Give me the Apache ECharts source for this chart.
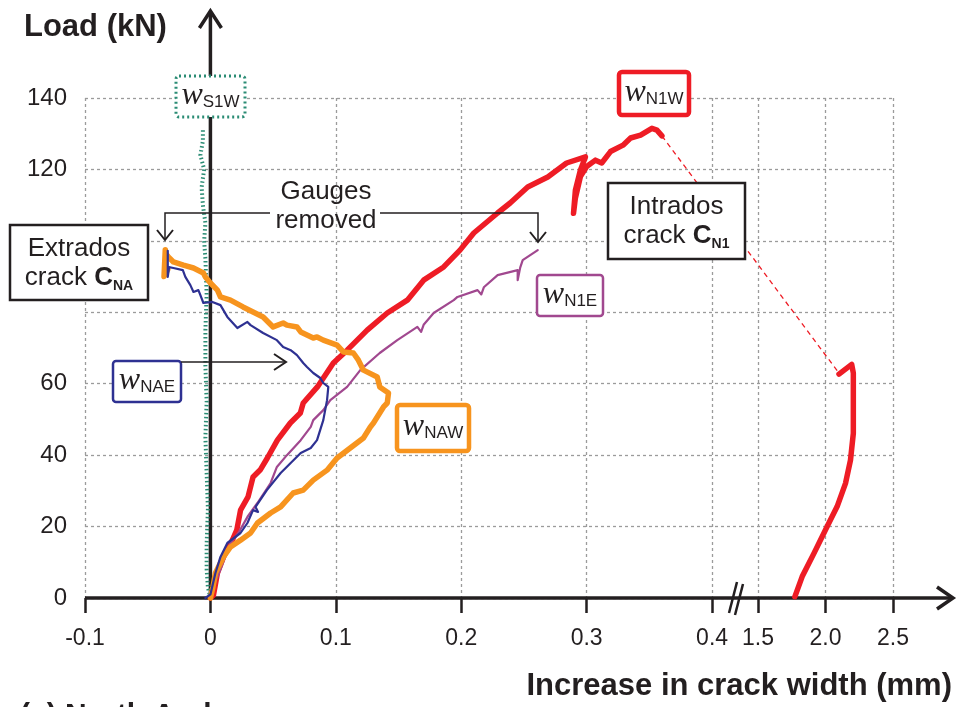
<!DOCTYPE html>
<html>
<head>
<meta charset="utf-8">
<script src="https://cdn.jsdelivr.net/npm/echarts@6/dist/echarts.min.js"></script>
<style>
  html, body { margin: 0; padding: 0; background: #fff; }
  #chart { width: 961px; height: 707px; }
</style>
</head>
<body>
<div id="chart"></div>
<script>
// Load vs. increase in crack width, north arch gauges (x in mm, y in kN)
const wS1W = [[0,0],[-0.002,3],[-0.003,8],[-0.003,15],[-0.002,25],[-0.003,35],[-0.004,45],[-0.003,55],[-0.004,65],[-0.004,75],[-0.003,85],[-0.004,95],[-0.005,100],[-0.004,105],[-0.006,110],[-0.007,115],[-0.005,120],[-0.008,124],[-0.006,128],[-0.006,131.5]];

const wN1W = [[0,0],[0.0024,0.8],[0.0056,7],[0.0104,11.5],[0.0175,16.2],[0.021,19],[0.024,24.6],[0.030,28.3],[0.034,33.9],[0.040,36],[0.0454,39.2],[0.0534,44.2],[0.0637,49],[0.0717,51.8],[0.074,54.6],[0.0853,59.1],[0.098,65.8],[0.109,69.4],[0.125,75],[0.141,79.8],[0.157,83.4],[0.170,89],[0.186,92.7],[0.199,97.4],[0.210,102.2],[0.229,107.8],[0.239,110.6],[0.253,115.1],[0.269,117.9],[0.284,121.8],[0.299,123.5],[0.295,119.8],[0.291,114.2],[0.2895,107.7],[0.291,112],[0.295,118],[0.300,120.8],[0.307,122.6],[0.312,121.8],[0.319,125],[0.329,126.8],[0.335,128.8],[0.343,129.6],[0.352,131.5],[0.356,131],[0.360,129.4]];
// unloading jump across the axis break
const wN1WJump = [[0.360,129.4],[2.093,63.3]];
// post-peak branch beyond the break
const wN1WTail = [[2.10,62.7],[2.194,65.4],[2.206,63],[2.206,60.1],[2.206,46.1],[2.185,38.6],[2.148,32.1],[2.086,25.6],[2.012,20],[1.914,12.5],[1.827,6],[1.773,0.4]];

const wN1E = [[0,0],[0.0024,3.1],[0.008,8],[0.016,15.4],[0.0223,18.2],[0.030,23],[0.0375,26.6],[0.048,32.2],[0.053,36.7],[0.061,40],[0.072,44.2],[0.080,47.9],[0.082,49.8],[0.090,52.6],[0.0956,55.4],[0.109,59.1],[0.1195,63.8],[0.135,68.6],[0.149,72.2],[0.165,75.9],[0.168,74.5],[0.170,76.5],[0.178,79.8],[0.194,83.4],[0.197,84.3],[0.213,86.2],[0.216,85],[0.218,87],[0.229,90.4],[0.245,91.8],[0.245,89],[0.247,92.5],[0.249,94.6],[0.261,97.4]];

const wNAE = [[-0.004,0],[0,1],[0.004,7],[0.008,11.5],[0.0135,15.4],[0.024,18.2],[0.0295,21],[0.034,24.6],[0.038,24.1],[0.036,25.5],[0.045,30.2],[0.056,35],[0.064,37.8],[0.072,40.6],[0.080,42],[0.085,44.2],[0.090,49.8],[0.093,55.4],[0.094,59.1],[0.090,60.2],[0.0876,61.6],[0.082,63],[0.077,64.7],[0.074,65.8],[0.069,68],[0.064,69.4],[0.058,70.3],[0.053,72.2],[0.042,74.2],[0.032,76.4],[0.0295,77.3],[0.0215,75.6],[0.0135,78.7],[0.008,82],[0.0016,82.9],[-0.0056,82.6],[-0.008,84.8],[-0.0096,86.2],[-0.0135,85.7],[-0.016,87.6],[-0.020,89.9],[-0.022,91.8],[-0.0295,92.4],[-0.034,92.7],[-0.034,97.2],[-0.034,89.9],[-0.033,92.5]];

const wNAW = [[0,0],[0.002,3],[0.004,7],[0.0104,11.5],[0.016,14.3],[0.024,16.2],[0.032,18.2],[0.0375,21],[0.048,23.8],[0.056,25.5],[0.066,29.4],[0.074,30.2],[0.082,33],[0.093,35.8],[0.101,39.2],[0.1115,42],[0.122,44.8],[0.1275,47.9],[0.130,49],[0.135,51.8],[0.138,53.5],[0.141,54.6],[0.142,57.4],[0.135,59.1],[0.133,61.9],[0.122,63.8],[0.118,66.6],[0.114,68.6],[0.106,68.9],[0.101,70.8],[0.090,72.2],[0.085,73.1],[0.082,72.8],[0.072,74.5],[0.069,75.9],[0.061,76.4],[0.058,77],[0.050,75.9],[0.042,78.7],[0.034,80.1],[0.026,81.5],[0.016,83.4],[0.008,84.3],[0.0056,86.2],[0,88.2],[-0.004,89.9],[-0.0056,91],[-0.0135,92.4],[-0.0215,93.2],[-0.0295,94.1],[-0.0335,95.5],[-0.036,96.6],[-0.036,97.5],[-0.037,90],[-0.034,92]];

const xTicks = [-0.1, 0, 0.1, 0.2, 0.3, 0.4, 1.5, 2.0, 2.5];
const xTickLabels = ['-0.1', '0', '0.1', '0.2', '0.3', '0.4', '1.5', '2.0', '2.5'];
const yHiddenLabels = [80, 100];

// Broken x scale: 0..0.4 linear, then 1.5..2.5 compressed after a gap
const BRK_AT = 0.45, SEG2_START = 0.43665, SEG2_SLOPE = 0.1076;
function toDisp(x) { return x <= BRK_AT ? x : SEG2_START + (x - 1.5) * SEG2_SLOPE; }
const disp = arr => arr.map(p => [toDisp(p[0]), p[1]]);
const xTickDisp = xTicks.map(toDisp);

const INK = '#231f20';
const SANS = '"Liberation Sans", Arial, sans-serif';
const GRID = { left: 85, right: 68, top: 98, bottom: 109 };

const chart = echarts.init(document.getElementById('chart'));

function seriesLine(name, data, color, width, extra) {
  return Object.assign({
    name, type: 'line', data: disp(data), showSymbol: false, symbol: 'none',
    animation: false, z: 3, clip: false,
    lineStyle: { color, width, join: 'round', cap: 'round' }
  }, extra || {});
}

chart.setOption({
  backgroundColor: '#fff',
  animation: false,
  grid: GRID,
  xAxis: {
    type: 'value', min: -0.1, max: toDisp(2.5),
    axisLine: { show: false },
    axisTick: { show: true, customValues: xTickDisp, length: 15, inside: false,
      lineStyle: { color: INK, width: 2.5 } },
    axisLabel: {
      customValues: xTickDisp, margin: 29, color: INK, fontSize: 23, fontFamily: '"Liberation Sans Narrow", ' + SANS,
      formatter: v => {
        let best = 0, d = Infinity;
        xTickDisp.forEach((t, i) => { const e = Math.abs(t - v); if (e < d) { d = e; best = i; } });
        return xTickLabels[best];
      }
    },
    splitLine: { show: true, lineStyle: { color: '#9b9b9b', width: 1.3, type: [3, 3] } }
  },
  yAxis: {
    type: 'value', min: 0, max: 140, interval: 20,
    axisLine: { show: false }, axisTick: { show: false },
    axisLabel: { color: INK, fontSize: 24, fontFamily: SANS, margin: 18,
      formatter: v => yHiddenLabels.includes(v) ? '' : String(v) },
    splitLine: { show: true, lineStyle: { color: '#9b9b9b', width: 1.3, type: [3, 3] } }
  },
  series: [
    seriesLine('wS1W', wS1W, '#2a8c74', 4, { lineStyle: { color: '#2a8c74', width: 4, type: [1.5, 2.5] } }),
    seriesLine('wN1W', wN1W, '#ee1c25', 5.5),
    seriesLine('wN1W jump', wN1WJump, '#ee1c25', 1.3, { lineStyle: { color: '#ee1c25', width: 1.3, type: [5, 4] } }),
    seriesLine('wN1W tail', wN1WTail, '#ee1c25', 5.5),
    seriesLine('wN1E', wN1E, '#a1488f', 2.2),
    seriesLine('wNAW', wNAW, '#f7941e', 5.5),
    seriesLine('wNAE', wNAE, '#2e3192', 2.2)
  ]
});

// Axes drawn through the origin, annotations and labels
const origin = chart.convertToPixel({ gridIndex: 0 }, [0, 0]);
const x0 = origin[0], y0 = origin[1];
const xEnd = 953, yTop = 11;

function wLabel(x, y, w, h, sub, color, lw, dash) {
  return [
    { type: 'rect', z: 20, shape: { x, y, width: w, height: h, r: 3 },
      style: { fill: '#fff', stroke: color, lineWidth: lw, lineDash: dash || null } },
    { type: 'text', z: 21, style: {
        x: x + w / 2, y: y + h / 2 - 1, align: 'center', verticalAlign: 'middle',
        text: '{w|w}{s|' + sub + '}',
        rich: {
          w: { fontFamily: '"Liberation Serif", "Times New Roman", serif', fontStyle: 'italic', fontSize: 32, lineHeight: 30, fill: INK },
          s: { fontFamily: SANS, fontSize: 17, lineHeight: 13, verticalAlign: 'bottom', fill: INK }
        } } }
  ];
}

function twoLineBox(x, y, w, h, l1, main, sub) {
  return [
    { type: 'rect', z: 20, shape: { x, y, width: w, height: h },
      style: { fill: '#fff', stroke: INK, lineWidth: 2.5 } },
    { type: 'text', z: 21, style: { x: x + w / 2, y: y + 24, align: 'center', verticalAlign: 'middle',
        text: l1, font: '26px ' + SANS, fill: INK } },
    { type: 'text', z: 21, style: { x: x + w / 2, y: y + 53, align: 'center', verticalAlign: 'middle',
        text: '{n|' + main + ' }{b|C}{s|' + sub + '}',
        rich: {
          n: { fontFamily: SANS, fontSize: 26, lineHeight: 30, fill: INK },
          b: { fontFamily: SANS, fontSize: 26, fontWeight: 'bold', lineHeight: 30, fill: INK },
          s: { fontFamily: SANS, fontSize: 14, fontWeight: 'bold', lineHeight: 12, verticalAlign: 'bottom', fill: INK }
        } } }
  ];
}

const chevron = (pts) => ({ type: 'polyline', z: 22, shape: { points: pts },
  style: { stroke: INK, lineWidth: 2, fill: null } });
const thin = (pts) => ({ type: 'polyline', z: 22, shape: { points: pts },
  style: { stroke: INK, lineWidth: 1.5, fill: null } });

const elements = [
  // vertical load axis at zero width
  { type: 'line', z: 1, shape: { x1: x0, y1: y0, x2: x0, y2: yTop + 2 }, style: { stroke: INK, lineWidth: 3.5 } },
  { type: 'polyline', z: 1, shape: { points: [[x0 - 11, yTop + 17], [x0, yTop], [x0 + 11, yTop + 17]] },
    style: { stroke: INK, lineWidth: 3.5, fill: null } },
  // horizontal axis
  { type: 'line', z: 1, shape: { x1: GRID.left, y1: y0, x2: xEnd - 2, y2: y0 }, style: { stroke: INK, lineWidth: 3.5 } },
  { type: 'polyline', z: 1, shape: { points: [[xEnd - 16, y0 - 11], [xEnd, y0], [xEnd - 16, y0 + 11]] },
    style: { stroke: INK, lineWidth: 3.5, fill: null } },
  // break marks
  { type: 'line', z: 2, shape: { x1: 729, y1: 613, x2: 737, y2: 582 }, style: { stroke: INK, lineWidth: 2.5 } },
  { type: 'line', z: 2, shape: { x1: 735, y1: 615, x2: 743, y2: 584 }, style: { stroke: INK, lineWidth: 2.5 } },
  // axis titles
  { type: 'text', z: 21, style: { x: 24, y: 27, align: 'left', verticalAlign: 'middle',
      text: 'Load (kN)', font: 'bold 31px ' + SANS, fill: INK } },
  { type: 'text', z: 21, style: { x: 952, y: 686, align: 'right', verticalAlign: 'middle',
      text: 'Increase in crack width (mm)', font: 'bold 31px ' + SANS, fill: INK } },
  { type: 'text', z: 21, style: { x: 20, y: 716, align: 'left', verticalAlign: 'middle',
      text: '(a) North Arch', font: 'bold 30px ' + SANS, fill: INK } },
  // gauges removed callout
  { type: 'text', z: 21, style: { x: 326, y: 192, align: 'center', verticalAlign: 'middle',
      text: 'Gauges', font: '26px ' + SANS, fill: INK } },
  { type: 'text', z: 21, style: { x: 326, y: 221, align: 'center', verticalAlign: 'middle',
      text: 'removed', font: '26px ' + SANS, fill: INK } },
  thin([[165, 239], [165, 213], [270, 213]]),
  thin([[380, 213], [538, 213], [538, 241]]),
  chevron([[157, 230], [165, 240], [173, 230]]),
  chevron([[530, 232], [538, 242], [546, 232]]),
  // arrow from the wNAE tag
  thin([[181, 362], [285, 362]]),
  chevron([[274, 354], [286, 362], [274, 370]])
];

elements.push(
  ...wLabel(176, 76, 69, 41, 'S1W', '#2a8c74', 3, [2, 3]),
  ...wLabel(619, 72, 70, 43, 'N1W', '#ee1c25', 4.5),
  ...wLabel(537, 275, 66, 41, 'N1E', '#a1488f', 2.5),
  ...wLabel(113, 361, 68, 41, 'NAE', '#2e3192', 2.5),
  ...wLabel(397, 405, 72, 46, 'NAW', '#f7941e', 4.5),
  ...twoLineBox(10, 225, 138, 75, 'Extrados', 'crack', 'NA'),
  ...twoLineBox(608, 183, 137, 76, 'Intrados', 'crack', 'N1')
);

chart.setOption({ graphic: { elements } });
</script>
</body>
</html>
